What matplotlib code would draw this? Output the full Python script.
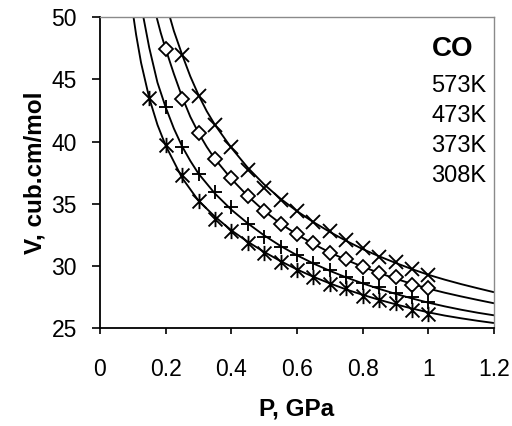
import matplotlib
matplotlib.use("Agg")
import matplotlib.pyplot as plt
from matplotlib.path import Path

plt.rcParams['font.family'] = ['Liberation Sans', 'DejaVu Sans']

# ---- data ----
temps = ["573K", "473K", "373K", "308K"]

# measured points (markers)
p_573 = [0.25, 0.3, 0.35, 0.4, 0.45, 0.5, 0.55, 0.6, 0.65, 0.7, 0.75, 0.8, 0.85, 0.9, 0.95, 1.0]
v_573 = [47.0, 43.7, 41.3, 39.6, 37.75, 36.3, 35.3, 34.4, 33.5, 32.8, 32.1, 31.4, 30.75, 30.3, 29.75, 29.3]

p_473 = [0.2, 0.25, 0.3, 0.35, 0.4, 0.45, 0.5, 0.55, 0.6, 0.65, 0.7, 0.75, 0.8, 0.85, 0.9, 0.95, 1.0]
v_473 = [47.47, 43.45, 40.7, 38.56, 37.05, 35.6, 34.4, 33.4, 32.55, 31.8, 31.0, 30.55, 29.93, 29.4, 29.1, 28.5, 28.2]

p_373 = [0.2, 0.25, 0.3, 0.35, 0.4, 0.45, 0.5, 0.55, 0.6, 0.65, 0.7, 0.75, 0.8, 0.85, 0.9, 0.95, 1.0]
v_373 = [42.76, 39.6, 37.4, 35.95, 34.77, 33.36, 32.35, 31.5, 30.87, 30.25, 29.66, 29.1, 28.64, 28.27, 27.84, 27.47, 27.1]

p_308 = [0.15, 0.2, 0.25, 0.3, 0.35, 0.4, 0.45, 0.5, 0.55, 0.6, 0.65, 0.7, 0.75, 0.8, 0.85, 0.9, 0.95, 1.0]
v_308 = [43.5, 39.7, 37.3, 35.23, 33.74, 32.8, 31.8, 31.0, 30.33, 29.63, 29.08, 28.54, 28.2, 27.57, 27.25, 27.03, 26.45, 26.13]

# model curves (lines)
cp_573 = [0.2, 0.225, 0.25, 0.275, 0.3, 0.325, 0.35, 0.4, 0.45, 0.5, 0.55, 0.6, 0.65, 0.7, 0.75,
          0.8, 0.85, 0.9, 0.95, 1.0, 1.05, 1.1, 1.15, 1.2]
cv_573 = [51.2, 48.9, 47.0, 45.25, 43.75, 42.45, 41.35, 39.5, 37.9, 36.55, 35.4, 34.4, 33.52, 32.73, 32.01,
          31.35, 30.77, 30.24, 29.74, 29.28, 28.89, 28.53, 28.2, 27.88]

cp_473 = [0.165, 0.1725, 0.185, 0.2, 0.225, 0.25, 0.275, 0.3, 0.325, 0.35, 0.4, 0.45, 0.5, 0.55, 0.6,
          0.65, 0.7, 0.75, 0.8, 0.85, 0.9, 0.95, 1.0, 1.05, 1.1, 1.15, 1.2]
cv_473 = [50.9, 50.0, 48.75, 47.45, 45.45, 43.6, 42.0, 40.7, 39.58, 38.6, 37.0, 35.62, 34.42, 33.4, 32.52,
          31.76, 31.08, 30.48, 29.93, 29.43, 28.97, 28.55, 28.17, 27.84, 27.54, 27.26, 26.99]

cp_373 = [0.125, 0.15, 0.175, 0.2, 0.225, 0.25, 0.275, 0.3, 0.35, 0.4, 0.45, 0.5, 0.55, 0.6, 0.65,
          0.7, 0.75, 0.8, 0.85, 0.9, 0.95, 1.0, 1.05, 1.1, 1.15, 1.2]
cv_373 = [51.0, 47.55, 44.75, 42.76, 41.05, 39.62, 38.45, 37.42, 35.82, 34.52, 33.42, 32.45, 31.6, 30.85, 30.19,
          29.6, 29.07, 28.59, 28.15, 27.75, 27.38, 27.04, 26.74, 26.47, 26.23, 26.02]

cp_308 = [0.095, 0.11, 0.125, 0.15, 0.175, 0.2, 0.25, 0.3, 0.35, 0.4, 0.45, 0.5, 0.55, 0.6, 0.65,
          0.7, 0.75, 0.8, 0.85, 0.9, 0.95, 1.0, 1.05, 1.1, 1.15, 1.2]
cv_308 = [51.3, 48.6, 46.35, 43.5, 41.35, 39.68, 37.08, 35.24, 33.96, 32.86, 31.94, 31.12, 30.38, 29.71, 29.12,
          28.59, 28.1, 27.67, 27.27, 26.91, 26.57, 26.26, 26.0, 25.78, 25.58, 25.4]

x_ticks = [0, 0.2, 0.4, 0.6, 0.8, 1.0, 1.2]
x_ticklabels = ["0", "0.2", "0.4", "0.6", "0.8", "1", "1.2"]
y_ticks = [25, 30, 35, 40, 45, 50]

# asterisk-like marker (x with a vertical bar)
star = Path([(-0.5, -0.5), (0.5, 0.5), (-0.5, 0.5), (0.5, -0.5), (0, -0.55), (0, 0.55)],
            [Path.MOVETO, Path.LINETO, Path.MOVETO, Path.LINETO, Path.MOVETO, Path.LINETO])

fig = plt.figure(figsize=(5.12, 4.26), dpi=100)
ax = fig.add_axes([100/512, 1-328/426, 394/512, (328-17.3)/426])

lw = 1.35
for cp, cv in [(cp_573, cv_573), (cp_473, cv_473), (cp_373, cv_373), (cp_308, cv_308)]:
    ax.plot(cp, cv, color='black', lw=lw, zorder=2, solid_capstyle='butt')

ax.plot(p_573, v_573, ls='none', marker='x', ms=10, mew=1.35, color='black', zorder=3)
ax.plot(p_473, v_473, ls='none', marker='D', ms=7, mew=1.3, mec='black', mfc='white', zorder=3)
ax.plot(p_373, v_373, ls='none', marker='+', ms=10.5, mew=1.35, color='black', zorder=3)
ax.plot(p_308, v_308, ls='none', marker=star, ms=11, mew=1.35, color='black', zorder=3)

ax.set_xlim(0, 1.2)
ax.set_ylim(25, 50)
ax.set_xticks(x_ticks)
ax.set_xticklabels(x_ticklabels)
ax.set_yticks(y_ticks)

for s in ['top', 'right']:
    ax.spines[s].set_color('#8a8a8a')
    ax.spines[s].set_linewidth(1.0)
for s in ['left', 'bottom']:
    ax.spines[s].set_color('black')
    ax.spines[s].set_linewidth(1.3)

ax.tick_params(axis='x', direction='out', length=4.5, width=1.2, pad=17, labelsize=16.5)
ax.tick_params(axis='y', direction='out', length=5.5, width=1.2, pad=11, labelsize=16.5)

ax.set_xlabel("P, GPa", fontsize=17.5, fontweight='bold', labelpad=12)
ax.set_ylabel("V, cub.cm/mol", fontsize=17.5, fontweight='bold', labelpad=4)

# legend-style annotation
fig.text(432/512, 1-56/426, "CO", fontsize=20, fontweight='bold', ha='left', va='baseline')
for lab, yb in zip(temps, [91.5, 121.7, 152, 182.3]):
    fig.text(431.5/512, 1-yb/426, lab, fontsize=17, ha='left', va='baseline')

fig.savefig("out.png", dpi=100)
